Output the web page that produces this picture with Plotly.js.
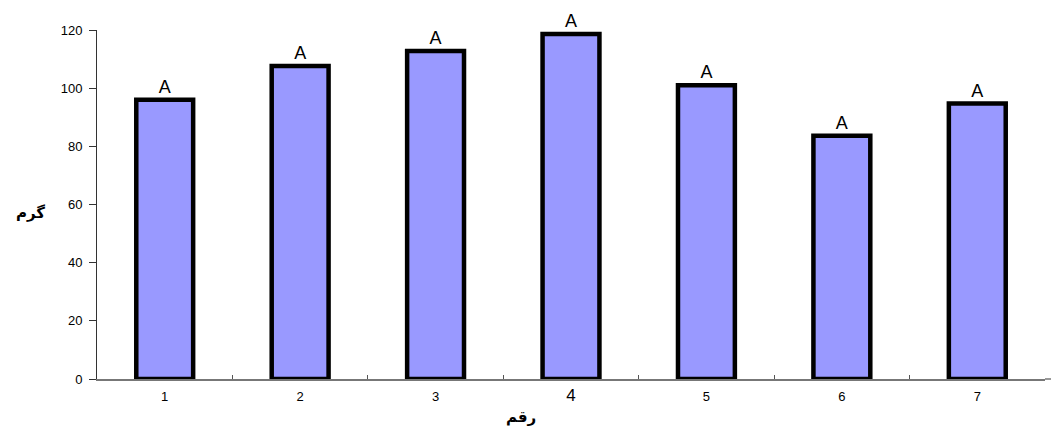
<!DOCTYPE html>
<html><head><meta charset="utf-8">
<script src="https://cdn.plot.ly/plotly-3.0.1.min.js"></script>
<style>body{margin:0;background:#fff}#c{width:1051px;height:430px}</style>
</head><body><div id="c"></div>
<script>
const categories = ['1','2','3','4','5','6','7'];
const tickLabels = ['1','2','3','<span style="font-size:17px">4</span>','5','6','7'];
const values = [96, 107.6, 112.8, 118.6, 101, 83.6, 94.7];
const barLabels = ['A','A','A','A','A','A','A'];
const yTitle = 'گرم';
const xTitle = 'رقم';

Plotly.newPlot('c', [{
  type: 'bar', x: categories, y: values,
  text: barLabels, textposition: 'outside', cliponaxis: false,
  textfont: {family: 'Arial, Liberation Sans', size: 18, color: '#000'},
  marker: {color: '#9999FF', line: {color: '#000', width: 4.5}},
  width: 0.42, hoverinfo: 'none'
}], {
  width: 1051, height: 430,
  margin: {l: 97, r: 6, t: 30, b: 51},
  paper_bgcolor: '#fff', plot_bgcolor: '#fff',
  showlegend: false,
  font: {family: 'Arial, Liberation Sans', size: 13, color: '#000'},
  xaxis: {type: 'category', tickvals: categories, ticktext: tickLabels,
    tickson: 'boundaries', ticks: 'inside', ticklen: 4, tickcolor: '#555',
    showline: true, linecolor: '#777', linewidth: 1.5, showgrid: false,
    zeroline: false, tickfont: {size: 13}, ticklabelstandoff: 5},
  yaxis: {range: [0, 120], dtick: 20, ticks: 'outside', ticklen: 7, tickcolor: '#333',
    showline: true, linecolor: '#333', linewidth: 1, showgrid: false, zeroline: false,
    tickfont: {size: 13}, ticklabelstandoff: 4},
  shapes: [
    {type: 'line', xref: 'paper', yref: 'paper', x0: 1, x1: 1.01, y0: 0, y1: 0,
     line: {color: '#777', width: 1.5}}
  ],
  annotations: [
    {text: yTitle, xref: 'paper', yref: 'paper', x: -0.07, y: 0.475, xanchor: 'center', yanchor: 'middle',
     showarrow: false, font: {family: 'Arial, DejaVu Sans', size: 15, color: '#000', weight: 'bold'}},
    {text: xTitle, xref: 'paper', yref: 'paper', x: 0.447, y: -0.108, xanchor: 'center', yanchor: 'middle',
     showarrow: false, font: {family: 'Arial, DejaVu Sans', size: 15, color: '#000', weight: 'bold'}}
  ]
}, {displayModeBar: false, staticPlot: true});
</script></body></html>
